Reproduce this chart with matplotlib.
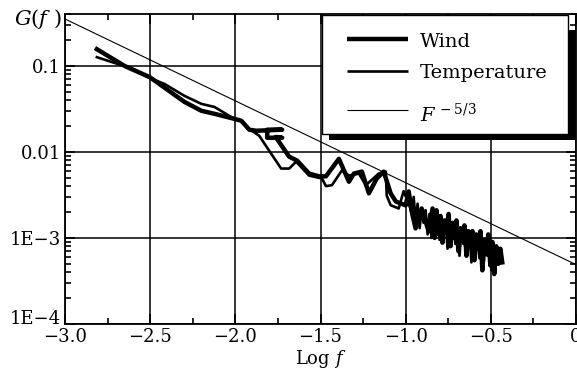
import matplotlib
matplotlib.use("Agg")
import matplotlib.pyplot as plt
import matplotlib.patches as mpatches
from matplotlib.ticker import FixedLocator, FixedFormatter, LogLocator, NullFormatter, MultipleLocator

plt.rcParams["font.family"] = "DejaVu Serif"
plt.rcParams["mathtext.fontset"] = "dejavuserif"

# ── Data ──────────────────────────────────────────────────────────────────

WIND_X = [-2.813, -2.649, -2.503, -2.298, -2.199, -2.123, -2.006, -1.965,
          -1.918, -1.877, -1.725, -1.813, -1.813, -1.725, -1.763,
          -1.684, -1.637, -1.567, -1.509, -1.468, -1.392, -1.333, -1.304,
          -1.257, -1.216, -1.170, -1.129, -1.088, -1.058, -1.000, -0.982,
          -0.965, -0.942, -0.906, -0.865, -0.842, -0.830,
          -0.819, -0.807, -0.795, -0.784, -0.772, -0.760, -0.748, -0.737,
          -0.725, -0.713, -0.702, -0.690, -0.678, -0.667, -0.655, -0.643,
          -0.632, -0.620, -0.608, -0.596, -0.585, -0.573, -0.561, -0.550,
          -0.538, -0.526, -0.515, -0.503, -0.491, -0.480, -0.468, -0.456,
          -0.444, -0.433]
WIND_G = [0.156, 0.0993, 0.074, 0.038, 0.030, 0.0277, 0.0242, 0.0230,
          0.0181, 0.0176, 0.0181, 0.0181, 0.0146, 0.0146, 0.0149,
          0.0088, 0.0079, 0.0056, 0.0052, 0.0052, 0.0083, 0.0045, 0.0056,
          0.0059, 0.0033, 0.0049, 0.0059, 0.0033, 0.00265, 0.00239, 0.00347,
          0.00204, 0.00129, 0.00220, 0.00119, 0.0022, 0.0010,
          0.0021, 0.0011, 0.0018, 0.00088, 0.0016, 0.0012, 0.0019, 0.00080,
          0.0015, 0.0010, 0.0016, 0.00070, 0.0013, 0.00095, 0.0014, 0.00062,
          0.0012, 0.00085, 0.0012, 0.00055, 0.0011, 0.00075, 0.0012, 0.00042,
          0.00095, 0.00065, 0.0011, 0.00048, 0.00090, 0.00038, 0.00080, 0.00050,
          0.00075, 0.00052]

TEMP_X = [-2.813, -2.690, -2.620, -2.515, -2.415, -2.298, -2.199, -2.123,
          -2.006, -1.965, -1.918, -1.860, -1.801, -1.731, -1.684, -1.643,
          -1.567, -1.491, -1.468, -1.433, -1.374, -1.333, -1.275, -1.234,
          -1.158, -1.117, -1.111, -1.088, -1.041, -1.012, -0.982,
          -0.965, -0.953, -0.942, -0.930, -0.918, -0.906, -0.895, -0.883,
          -0.871, -0.860, -0.848, -0.836, -0.825, -0.813, -0.801, -0.789,
          -0.778, -0.766, -0.754, -0.743, -0.731, -0.719, -0.708, -0.696,
          -0.684, -0.673, -0.661, -0.649, -0.637, -0.626, -0.614, -0.602,
          -0.591, -0.579, -0.567, -0.556, -0.544, -0.532, -0.520, -0.509,
          -0.497, -0.485, -0.474, -0.462]
TEMP_G = [0.126, 0.105, 0.0966, 0.074, 0.0614, 0.0447, 0.0361, 0.0333,
          0.0242, 0.0230, 0.0185, 0.0154, 0.0103, 0.0064, 0.0064, 0.0077,
          0.0053, 0.0049, 0.0040, 0.0041, 0.0061, 0.0053, 0.0056, 0.0041,
          0.0056, 0.0059, 0.0031, 0.0024, 0.0022, 0.0035, 0.0025,
          0.0020, 0.0030, 0.0016, 0.0025, 0.0013, 0.0022, 0.0015, 0.0021,
          0.0011, 0.0019, 0.0010, 0.0018, 0.0013, 0.0019, 0.00095, 0.0016,
          0.0012, 0.0016, 0.00075, 0.0015, 0.0010, 0.0015, 0.00085, 0.0014,
          0.00062, 0.0012, 0.00085, 0.0013, 0.00068, 0.0012, 0.00052, 0.0011,
          0.00072, 0.0011, 0.00058, 0.0010, 0.00045, 0.00095, 0.00062, 0.00092,
          0.00042, 0.00085, 0.00052, 0.00072]

REF_X = [-3.0, 0.0]
REF_G = [0.35, 0.00049]

SERIES_LABELS = ["Wind", "Temperature", r"$F^{\,-5/3}$"]
SERIES_WIDTHS = [3.2, 1.9, 0.8]

X_TICKS = [-3.0, -2.5, -2.0, -1.5, -1.0, -0.5, 0.0]
X_TICK_LABELS = ["\u22123.0", "\u22122.5", "\u22122.0", "\u22121.5",
                 "\u22121.0", "\u22120.5", "0"]
Y_TICKS = [1e-4, 1e-3, 1e-2, 1e-1]
Y_TICK_LABELS = ["1E\u22124", "1E\u22123", "0.01", "0.1"]

FS = 13

# ── Figure ────────────────────────────────────────────────────────────────

fig = plt.figure(figsize=(5.77, 3.72), dpi=100)
ax = fig.add_axes([65 / 577, 48 / 372, 511 / 577, 310 / 372])

for xs, gs, lw, lab in zip([WIND_X, TEMP_X, REF_X], [WIND_G, TEMP_G, REF_G],
                           SERIES_WIDTHS, SERIES_LABELS):
    ax.plot(xs, gs, color="black", lw=lw, label=lab, zorder=3)

ax.set_yscale("log")
ax.set_xlim(-3.0, 0.0)
ax.set_ylim(1e-4, 0.4)

ax.xaxis.set_major_locator(FixedLocator(X_TICKS))
ax.xaxis.set_major_formatter(FixedFormatter(X_TICK_LABELS))
ax.xaxis.set_minor_locator(MultipleLocator(0.25))
ax.yaxis.set_major_locator(FixedLocator(Y_TICKS))
ax.yaxis.set_major_formatter(FixedFormatter(Y_TICK_LABELS))
ax.yaxis.set_minor_locator(LogLocator(base=10, subs=range(2, 10)))
ax.yaxis.set_minor_formatter(NullFormatter())

ax.tick_params(which="both", direction="in", top=True, right=True,
               labelsize=FS, colors="black", width=1.2)
ax.tick_params(which="major", length=7, pad=3)
ax.tick_params(which="minor", length=4)
for sp in ax.spines.values():
    sp.set_linewidth(1.3)

# lowest y label sits on the axis line, above the x labels
ax.yaxis.get_major_ticks()[0].label1.set_va("baseline")

ax.grid(True, which="major", color="black", lw=1.1)
ax.set_axisbelow(True)

ax.set_xlabel(r"Log $f$", fontsize=FS, labelpad=1)
ax.text(-0.006, 0.984, r"$G(f\ )$", transform=ax.transAxes,
        fontsize=15, ha="right", va="center")

# ── Legend box with a solid black drop shadow ────────────────────────────

bx, by, bw, bh = 0.502, 0.613, 0.482, 0.384
ax.add_patch(mpatches.Rectangle((bx + 0.014, by - 0.018), bw, bh - 0.03,
                                transform=ax.transAxes, facecolor="black",
                                edgecolor="none", zorder=5, clip_on=False))
ax.add_patch(mpatches.Rectangle((bx, by), bw, bh, transform=ax.transAxes,
                                facecolor="white", edgecolor="black", lw=1.0,
                                zorder=6, clip_on=False))

row_line_y = [0.919, 0.817, 0.690]
row_text_y = [0.894, 0.794, 0.652]
for lab, lw, ly, ty in zip(SERIES_LABELS, SERIES_WIDTHS, row_line_y, row_text_y):
    ax.plot([0.552, 0.671], [ly, ly], transform=ax.transAxes, color="black",
            lw=lw, solid_capstyle="butt", zorder=7, clip_on=False)
    ax.text(0.695, ty, lab, transform=ax.transAxes, fontsize=14,
            ha="left", va="baseline", zorder=7)

fig.savefig("out.png", dpi=100, facecolor="white")
